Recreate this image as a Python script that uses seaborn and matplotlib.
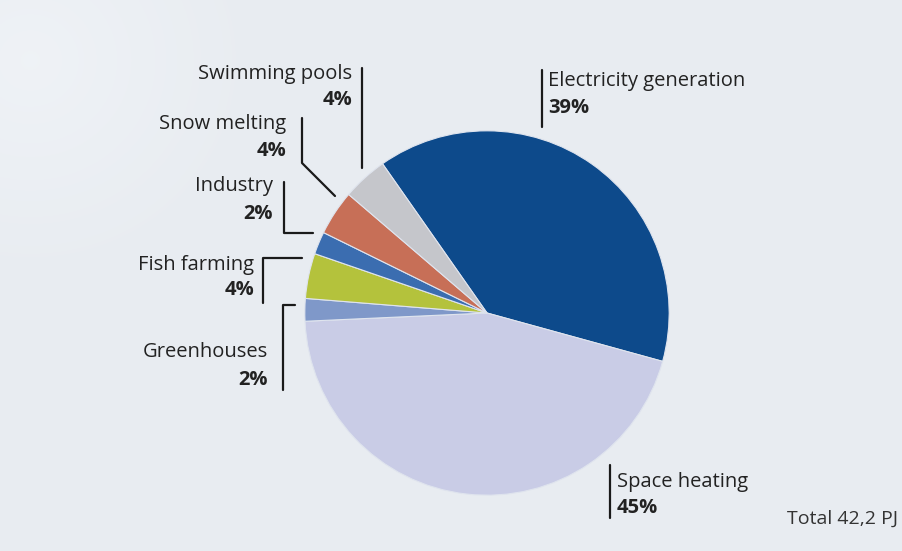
import numpy as np
import matplotlib
matplotlib.use("Agg")
import matplotlib.pyplot as plt
import seaborn as sns

sns.set_theme(style="white")
plt.rcParams['font.family'] = ['Open Sans', 'DejaVu Sans']

# ---- data ----
categories = ["Electricity generation", "Space heating", "Greenhouses", "Fish farming",
              "Industry", "Snow melting", "Swimming pools"]
shares = [39, 45, 2, 4, 2, 4, 4]
pct_labels = ["39%", "45%", "2%", "4%", "2%", "4%", "4%"]
colors = ["#0d4a8b", "#c9cce6", "#7f98c9", "#b4c23c", "#3b6db0", "#c76f57", "#c5c6cb"]
total_text = "Total 42,2 PJ"

W, H = 903, 551
fig = plt.figure(figsize=(W / 100, H / 100), dpi=100)
bg = "#e8ecf1"
fig.patch.set_facecolor(bg)

# background with subtle light area top-left
bax = fig.add_axes([0, 0, 1, 1])
yy, xx = np.mgrid[0:H, 0:W]
d = np.sqrt(((xx - 30) / 240.0) ** 2 + ((yy - 60) / 230.0) ** 2)
light = np.clip(1 - d, 0, 1) * 0.45
base = np.array([0xe8, 0xec, 0xf1]) / 255.0
img = base[None, None, :] * (1 - light[..., None]) + np.array([0.97, 0.98, 0.99])[None, None, :] * light[..., None]
bax.imshow(img, extent=[0, W, H, 0], aspect="auto")
bax.set_xlim(0, W)
bax.set_ylim(H, 0)
bax.axis("off")

# pie axes: center (487, 313), radius 184 px
cx, cy, r = 487, 313, 184
pax = fig.add_axes([(cx - r) / W, 1 - (cy + r) / H, 2 * r / W, 2 * r / H])
pax.pie(shares, colors=colors, startangle=125, counterclock=False,
        wedgeprops=dict(linewidth=0.8, edgecolor="#dfe4ee"), radius=1)
pax.set_xlim(-1.01, 1.01)
pax.set_ylim(-1.01, 1.01)
pax.set_aspect("equal")
pax.axis("off")

# overlay for labels (pixel coordinates)
ax = fig.add_axes([0, 0, 1, 1])
ax.set_xlim(0, W)
ax.set_ylim(H, 0)
ax.axis("off")
lc = "#1a1a1a"
lw = 1.6
fs = 14.5
tc = "#222222"

def lab(x, y1, y2, name, pct, ha):
    ax.text(x, y1, name, ha=ha, va="center", fontsize=fs, color=tc)
    ax.text(x, y2, pct, ha=ha, va="center", fontsize=fs, color=tc, fontweight="bold")

# Swimming pools
lab(352, 74, 100, categories[6], pct_labels[6], "right")
ax.plot([362, 362], [68, 168], color=lc, lw=lw)
# Snow melting
lab(286, 124, 151, categories[5], pct_labels[5], "right")
ax.plot([302, 302, 335], [118, 163, 196], color=lc, lw=lw)
# Industry
lab(273, 186, 214, categories[4], pct_labels[4], "right")
ax.plot([284, 284, 313], [182, 233, 233], color=lc, lw=lw)
# Fish farming
lab(254, 265, 290, categories[3], pct_labels[3], "right")
ax.plot([302, 263, 263], [258, 258, 303], color=lc, lw=lw)
# Greenhouses
lab(268, 352, 380, categories[2], pct_labels[2], "right")
ax.plot([295, 283, 283], [305, 305, 390], color=lc, lw=lw)
# Electricity generation
lab(548, 81, 108, categories[0], pct_labels[0], "left")
ax.plot([542, 542], [70, 127], color=lc, lw=lw)
# Space heating
lab(617, 482, 508, categories[1], pct_labels[1], "left")
ax.plot([610, 610], [465, 518], color=lc, lw=lw)
# Total
ax.text(898, 519, total_text, ha="right", va="center", fontsize=14, color="#333333")

fig.savefig("out.png", dpi=100, facecolor=fig.get_facecolor())
